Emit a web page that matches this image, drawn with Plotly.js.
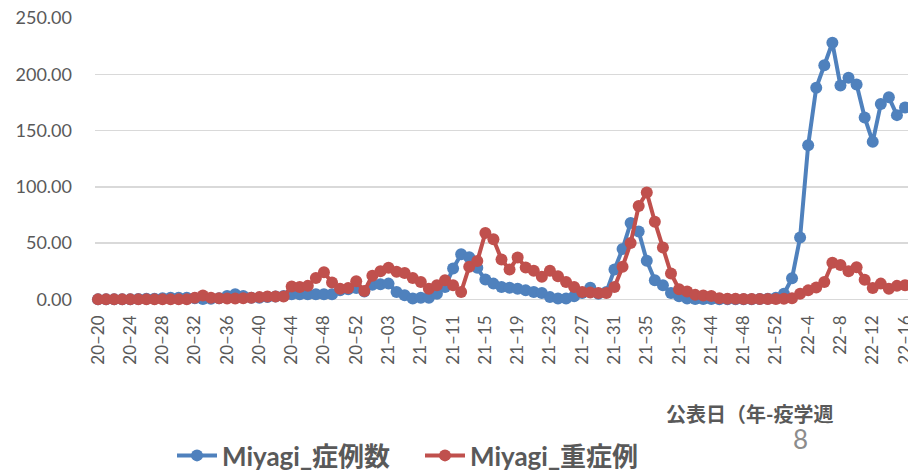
<!DOCTYPE html>
<html>
<head>
<meta charset="utf-8">
<script src="https://cdn.plot.ly/plotly-3.0.1.min.js"></script>
<style>html,body{margin:0;padding:0;background:#fff;overflow:hidden}#chart{width:908px;height:472px}</style>
</head>
<body>
<div id="chart"></div>
<script>
const weeks = [
"20–20","20–21","20–22","20–23","20–24","20–25","20–26","20–27","20–28","20–29",
"20–30","20–31","20–32","20–33","20–34","20–35","20–36","20–37","20–38","20–39",
"20–40","20–41","20–42","20–43","20–44","20–45","20–46","20–47","20–48","20–49",
"20–50","20–51","20–52","20–53",
"21–01","21–02","21–03","21–04","21–05","21–06","21–07","21–08","21–09","21–10",
"21–11","21–12","21–13","21–14","21–15","21–16","21–17","21–18","21–19","21–20",
"21–21","21–22","21–23","21–24","21–25","21–26","21–27","21–28","21–29","21–30",
"21–31","21–32","21–33","21–34","21–35","21–36","21–37","21–38","21–39","21–40",
"21–41","21–43","21–44","21–45","21–46","21–47","21–48","21–49","21–50","21–51",
"21–52",
"22–1","22–2","22–3","22–4","22–5","22–6","22–7","22–8","22–9","22–10",
"22–11","22–12","22–13","22–14","22–15","22–16"
];

const miyagiCases = [
0,0,0,0,0,0.3,0.5,0.5,1,1.5,
1.5,1.5,1,0.3,0.5,1,3,4.5,3,1.5,
1.5,2,2.5,3,4.5,4.5,4.5,4.5,4.5,4.5,
8,9,10,7,13,13.5,14,6.6,3.6,0.8,
1.5,1.5,5,11,27.5,40,37.5,28,17.6,14,
11,10.4,9.5,8,6.6,5.7,2,0.8,0.8,2.7,
5.7,10.4,5,6.6,26.6,44.8,67.8,60.3,34.3,17,
12.5,5.7,2.7,0.8,0.3,0.3,0.3,0.2,0.2,0.2,
0.2,0.2,0.3,0.5,1.5,5,18.8,55,137,188,
208,228,190,197,191,161.6,140,173.5,179.5,163.7,
170.5
];

const miyagiSevere = [
0,0,0,0,0,0,0,0,0,0,
0,0,1.5,3.5,1.5,1,0.8,0.8,1,1.5,
2,2.5,2.5,2.5,11.5,11,12,19,24,15,
9.5,10,16,7.5,21,25,28,24.5,23.5,19,
15.5,9.5,12.5,17,12.5,6.6,29,34,59,53.5,
35.5,26.5,37.3,28.4,25.5,20,25.5,20.5,15.5,11,
6.6,6,5.7,5.7,11,29,50,83,95,69,
46,23,9,7,4,3.5,3,1,0.5,0.5,
0.3,0.3,0.3,0.3,0.3,0.5,1,5,8,10.5,
15.5,32.5,30.5,25,28.5,17.5,10,14,9.5,12,
12.5
];

const seriesNames = ["Miyagi_症例数", "Miyagi_重症例"];
const yTicks = [0, 50, 100, 150, 200, 250];
const xTitle = "公表日（年-疫学週";
const pageMark = "8";

const FONT = "Lato, 'Noto Sans CJK JP', sans-serif";
const GRAY = "#595959";

const traces = [
  {x: weeks, y: miyagiCases, name: seriesNames[0], type: "scatter", mode: "lines+markers",
   line: {color: "#4f81bd", width: 4}, marker: {color: "#4f81bd", size: 12}, cliponaxis: false,
   legend: "legend"},
  {x: weeks, y: miyagiSevere, name: seriesNames[1], type: "scatter", mode: "lines+markers",
   line: {color: "#c0504d", width: 4}, marker: {color: "#c0504d", size: 12}, cliponaxis: false,
   legend: "legend2"}
];

const legendBase = {
  orientation: "h", xref: "container", yref: "container",
  y: 0.035, xanchor: "left", yanchor: "middle",
  font: {size: 26, color: GRAY, family: FONT, weight: "bold"},
  itemwidth: 40, bgcolor: "rgba(0,0,0,0)"
};

const layout = {
  width: 908, height: 472,
  margin: {l: 95, r: 0, t: 18, b: 167.4},
  paper_bgcolor: "#fff", plot_bgcolor: "#fff",
  font: {family: FONT, color: GRAY},
  showlegend: true,
  xaxis: {
    type: "category", categoryorder: "array", categoryarray: weeks,
    range: [-0.37, 100.37],
    tickmode: "array",
    tickvals: weeks.filter((w, i) => i % 4 === 0),
    tickangle: -90,
    tickfont: {size: 17, color: GRAY, family: FONT},
    showgrid: false, zeroline: false, showline: false, ticks: "",
    ticklabelstandoff: 6
  },
  yaxis: {
    range: [-5, 250],
    tickmode: "array", tickvals: yTicks,
    ticktext: yTicks.map(v => v.toFixed(2)),
    tickfont: {size: 18, color: GRAY, family: FONT},
    showgrid: true, gridcolor: "#d9d9d9", gridwidth: 1.5,
    zeroline: false, showline: false, ticks: "",
    ticklabelstandoff: 22
  },
  legend: Object.assign({}, legendBase, {x: 172 / 908}),
  legend2: Object.assign({}, legendBase, {x: 420 / 908}),
  annotations: [
    {text: xTitle, xref: "paper", yref: "paper", x: (749 - 95) / 813, y: -(413 - 304.6) / 286.6,
     xanchor: "center", yanchor: "middle", showarrow: false,
     font: {size: 20, color: GRAY, family: FONT, weight: "bold"}},
    {text: pageMark, xref: "paper", yref: "paper", x: (800 - 95) / 813, y: -(438 - 304.6) / 286.6,
     xanchor: "center", yanchor: "middle", showarrow: false,
     font: {size: 26, color: "#8c8c8c", family: FONT}}
  ]
};

Plotly.newPlot("chart", traces, layout, {displayModeBar: false, staticPlot: true});
</script>
</body>
</html>
